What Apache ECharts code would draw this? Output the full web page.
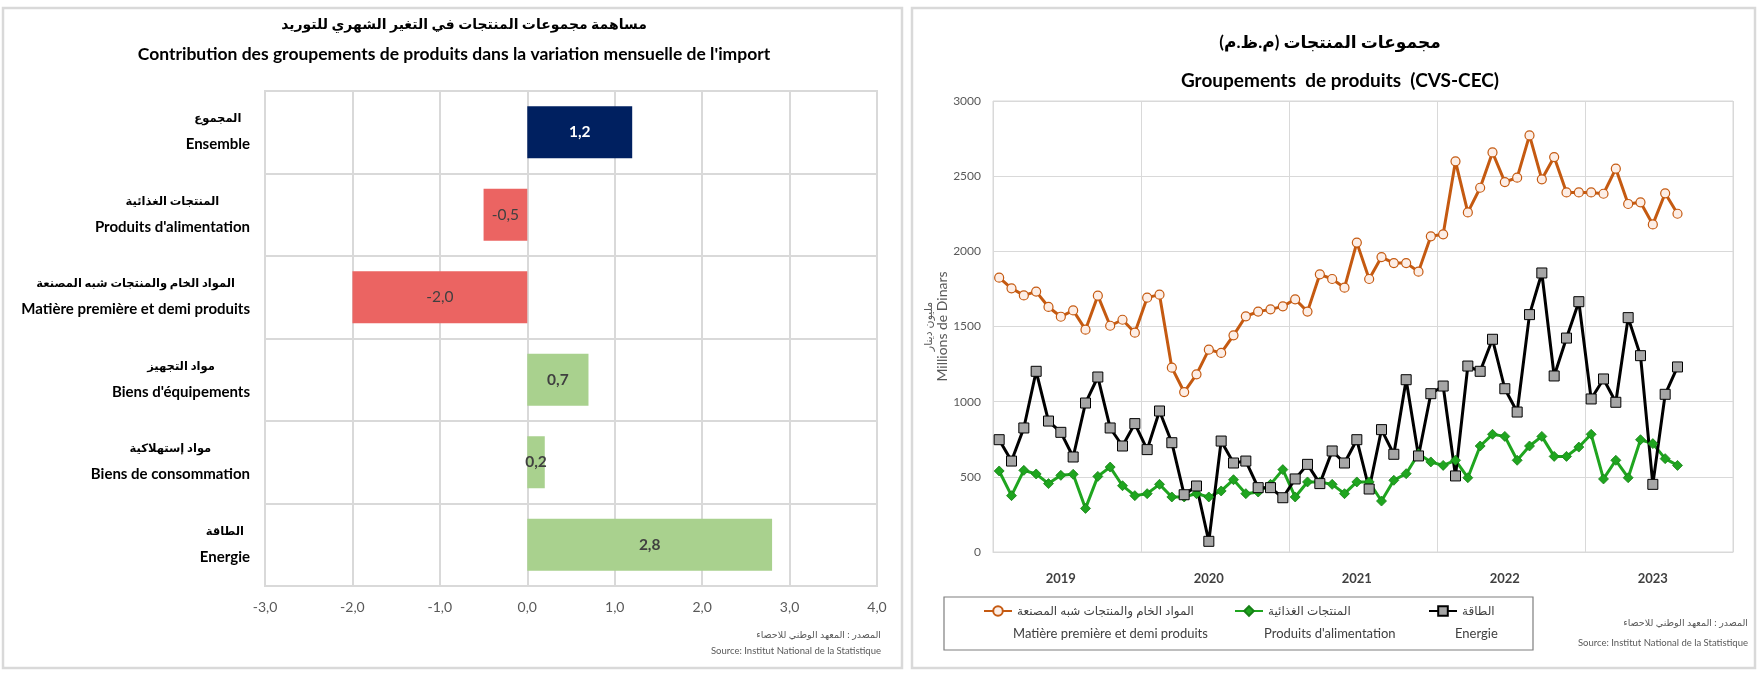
<!DOCTYPE html>
<html>
<head>
<meta charset="utf-8">
<script src="https://cdn.jsdelivr.net/npm/echarts@6/dist/echarts.min.js"></script>
<style>
html,body{margin:0;padding:0;background:#fff;}
#chart{width:1761px;height:675px;}
</style>
</head>
<body>
<div id="chart"></div>
<script>
// ---------- Left chart data ----------
const barCategoriesAr = ['المجموع', 'المنتجات الغذائية', 'المواد الخام والمنتجات شبه المصنعة', 'مواد التجهيز', 'مواد إستهلاكية', 'الطاقة'];
const barCategoriesFr = ['Ensemble', "Produits d'alimentation", 'Matière première et demi produits', "Biens d'équipements", 'Biens de consommation', 'Energie'];
const barValues = [1.2, -0.5, -2.0, 0.7, 0.2, 2.8];
const barTicks = [-3, -2, -1, 0, 1, 2, 3, 4];

// ---------- Right chart data ----------
const years = ['2019', '2020', '2021', '2022', '2023'];
const yTicks = [0, 500, 1000, 1500, 2000, 2500, 3000];
const seriesNames = ['المواد الخام والمنتجات شبه المصنعة', 'المنتجات الغذائية', 'الطاقة'];
const seriesNamesFr = ['Matière première et demi produits', "Produits d'alimentation", 'Energie'];
const matieres = [1825,1754,1707,1732,1630,1565,1607,1479,1705,1505,1545,1459,1692,1712,1226,1064,1182,1346,1324,1441,1568,1599,1614,1634,1681,1599,1847,1816,1758,2058,1816,1962,1922,1922,1865,2100,2113,2599,2259,2423,2658,2461,2490,2771,2479,2627,2392,2392,2392,2383,2550,2315,2326,2179,2386,2250];
const alimentation = [539,375,543,519,455,510,517,290,503,565,441,375,388,450,366,366,388,366,406,481,388,399,450,548,366,466,466,450,388,466,466,339,477,521,654,599,576,610,494,705,783,769,610,705,769,636,636,698,783,486,610,494,747,721,621,576];
const energie = [747,605,825,1202,871,796,632,991,1164,825,705,854,681,938,727,381,439,71,738,592,605,428,428,361,486,583,455,672,592,747,419,814,650,1146,639,1053,1104,506,1237,1202,1415,1086,931,1579,1856,1171,1423,1665,1018,1151,996,1559,1306,450,1049,1231];

// month categories built from the year tick labels
const months = [];
years.forEach(y => { for (let m = 1; m <= 12; m++) months.push(y + '-' + (m < 10 ? '0' + m : m)); });

const FONT = "Lato, 'DejaVu Sans', sans-serif";
const fmt = v => Number(v).toFixed(1).replace('.', ',');
const barColors = ['#002060', '#EB6462', '#EB6462', '#A9D18E', '#A9D18E', '#A9D18E'];
const barLabelColors = ['#ffffff', '#404040', '#404040', '#404040', '#404040', '#404040'];
const barLabelWeights = ['bold', 'normal', 'normal', 'bold', 'bold', 'bold'];
const RLM = '\u200F';

const chart = echarts.init(document.getElementById('chart'));

const option = {
  backgroundColor: '#ffffff',
  animation: false,
  textStyle: { fontFamily: FONT },
  grid: [
    { left: 265, top: 91, width: 612, height: 495, show: true, borderColor: '#D9D9D9', borderWidth: 2, containLabel: false },
    { left: 993, top: 101, width: 740, height: 451, show: true, borderColor: '#D9D9D9', borderWidth: 1, containLabel: false }
  ],
  xAxis: [
    {
      type: 'value', gridIndex: 0, min: barTicks[0], max: barTicks[barTicks.length - 1], interval: 1,
      axisLine: { show: false }, axisTick: { show: false },
      axisLabel: { formatter: fmt, color: '#595959', fontSize: 14, margin: 14, fontFamily: FONT },
      splitLine: { show: true, lineStyle: { color: '#D9D9D9', width: 2 } }
    },
    {
      type: 'category', gridIndex: 1, data: months, boundaryGap: true,
      axisLine: { show: true, lineStyle: { color: '#D9D9D9' } }, axisTick: { show: false },
      axisLabel: {
        interval: (i) => i % 12 === 5,
        formatter: v => v.slice(0, 4),
        color: '#404040', fontSize: 13, fontWeight: 'bold', margin: 20, fontFamily: FONT
      },
      splitLine: { show: true, interval: (i) => i % 12 === 0, lineStyle: { color: '#D9D9D9', width: 1 } }
    }
  ],
  yAxis: [
    {
      type: 'category', gridIndex: 0, inverse: true, data: barCategoriesFr,
      axisLine: { show: false }, axisTick: { show: false },
      splitLine: { show: true, lineStyle: { color: '#D9D9D9', width: 2 } },
      axisLabel: {
        margin: 15,
        formatter: (v, i) => '{ar|' + barCategoriesAr[i] + '}\n{fr|' + v + '}',
        rich: {
          ar: { fontSize: 11.5, fontWeight: 'bold', color: '#000', align: 'center', lineHeight: 24, fontFamily: FONT, padding: [0, 0, 3, 0] },
          fr: { fontSize: 15, fontWeight: 'bold', color: '#000', align: 'center', lineHeight: 24, fontFamily: FONT }
        }
      }
    },
    {
      type: 'value', gridIndex: 1, min: yTicks[0], max: yTicks[yTicks.length - 1], interval: 500,
      axisLine: { show: false }, axisTick: { show: false },
      axisLabel: { color: '#595959', fontSize: 12, margin: 12, fontFamily: FONT, formatter: v => String(v) },
      splitLine: { show: true, lineStyle: { color: '#D9D9D9', width: 1 } },
      name: '{ar|مليون دينار}\n{fr|Millions de Dinars}',
      nameLocation: 'middle', nameRotate: 90, nameGap: 21,
      nameTextStyle: {
        rich: {
          ar: { fontSize: 11, color: '#595959', lineHeight: 14, fontFamily: FONT },
          fr: { fontSize: 14, color: '#595959', lineHeight: 14, fontFamily: FONT }
        }
      }
    }
  ],
  legend: [0, 1, 2].map((k) => ({
    data: [seriesNames[k]],
    left: [983, 1234, 1428][k], top: 605, padding: 0,
    itemWidth: 28, itemHeight: 12, itemGap: 4,
    textStyle: { fontSize: 12, color: '#404040', fontFamily: FONT },
    formatter: n => RLM + n + RLM
  })),
  series: [
    {
      type: 'bar', xAxisIndex: 0, yAxisIndex: 0, barWidth: '63%',
      data: barValues.map((v, i) => ({
        value: v,
        itemStyle: { color: barColors[i] },
        label: { color: barLabelColors[i], fontWeight: barLabelWeights[i] }
      })),
      label: { show: true, position: 'inside', formatter: p => fmt(p.value), fontSize: 15.5, fontFamily: FONT }
    },
    {
      name: seriesNames[0], type: 'line', xAxisIndex: 1, yAxisIndex: 1, data: matieres,
      symbol: 'circle', symbolSize: 9, showAllSymbol: true,
      lineStyle: { color: '#C55A11', width: 3 },
      itemStyle: { color: '#FDEEE6', borderColor: '#C55A11', borderWidth: 1.2 }
    },
    {
      name: seriesNames[1], type: 'line', xAxisIndex: 1, yAxisIndex: 1, data: alimentation,
      symbol: 'diamond', symbolSize: 10, showAllSymbol: true,
      lineStyle: { color: '#1FA51F', width: 3 },
      itemStyle: { color: '#1FA51F', borderColor: '#168016', borderWidth: 0.8 }
    },
    {
      name: seriesNames[2], type: 'line', xAxisIndex: 1, yAxisIndex: 1, data: energie,
      symbol: 'rect', symbolSize: 10, showAllSymbol: true,
      lineStyle: { color: '#000000', width: 3 },
      itemStyle: { color: '#A6A6A6', borderColor: '#000000', borderWidth: 1 }
    }
  ],
  graphic: [
    // panel frames
    { type: 'rect', shape: { x: 3, y: 8, width: 899, height: 660 }, style: { fill: null, stroke: '#D9D9D9', lineWidth: 2.5 }, silent: true },
    { type: 'rect', shape: { x: 912, y: 8, width: 843, height: 660 }, style: { fill: null, stroke: '#D9D9D9', lineWidth: 2.5 }, silent: true },
    // left titles
    { type: 'text', x: 464, y: 24, style: { text: 'مساهمة مجموعات المنتجات في التغير الشهري للتوريد', align: 'center', verticalAlign: 'middle', font: 'bold 14px ' + FONT, fill: '#000' } },
    { type: 'text', x: 454, y: 54, style: { text: "Contribution des groupements de produits dans la variation mensuelle de l'import", align: 'center', verticalAlign: 'middle', font: 'bold 17.5px ' + FONT, fill: '#000' } },
    // right titles
    { type: 'text', x: 1330, y: 43, style: { text: RLM + 'مجموعات المنتجات (م.ظ.م)' + RLM, align: 'center', verticalAlign: 'middle', font: 'bold 17px ' + FONT, fill: '#000' } },
    { type: 'text', x: 1340, y: 81, style: { text: 'Groupements  de produits  (CVS-CEC)', align: 'center', verticalAlign: 'middle', font: 'bold 19px ' + FONT, fill: '#000' } },
    // legend frame and French legend lines
    { type: 'rect', shape: { x: 944, y: 597, width: 589, height: 53 }, style: { fill: null, stroke: '#7F7F7F', lineWidth: 1.2 }, silent: true },
    { type: 'text', x: 1013, y: 634, style: { text: seriesNamesFr[0], align: 'left', verticalAlign: 'middle', font: '13px ' + FONT, fill: '#404040' } },
    { type: 'text', x: 1264, y: 634, style: { text: seriesNamesFr[1], align: 'left', verticalAlign: 'middle', font: '13px ' + FONT, fill: '#404040' } },
    { type: 'text', x: 1455, y: 634, style: { text: seriesNamesFr[2], align: 'left', verticalAlign: 'middle', font: '13px ' + FONT, fill: '#404040' } },
    // sources
    { type: 'text', x: 881, y: 635, style: { text: 'المصدر : المعهد الوطني للاحصاء', align: 'right', verticalAlign: 'middle', font: '9.5px ' + FONT, fill: '#595959' } },
    { type: 'text', x: 881, y: 651, style: { text: 'Source: Institut National de la Statistique', align: 'right', verticalAlign: 'middle', font: '9.5px ' + FONT, fill: '#595959' } },
    { type: 'text', x: 1748, y: 623, style: { text: 'المصدر : المعهد الوطني للاحصاء', align: 'right', verticalAlign: 'middle', font: '9.5px ' + FONT, fill: '#595959' } },
    { type: 'text', x: 1748, y: 643, style: { text: 'Source: Institut National de la Statistique', align: 'right', verticalAlign: 'middle', font: '9.5px ' + FONT, fill: '#595959' } }
  ]
};
chart.setOption(option);
</script>
</body>
</html>
